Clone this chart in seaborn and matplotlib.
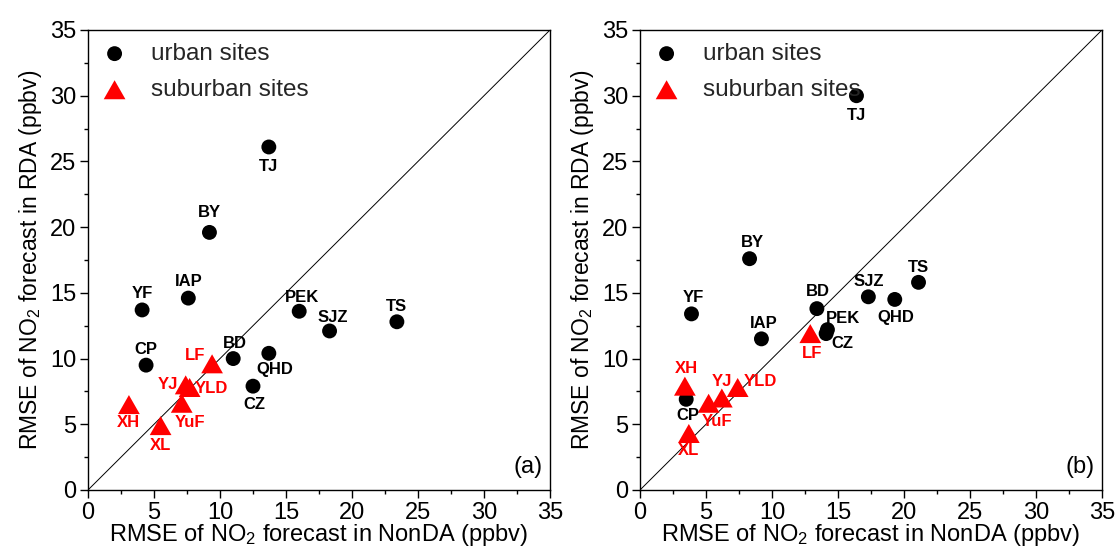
import numpy as np
import pandas as pd
import matplotlib
matplotlib.use("Agg")
import matplotlib.pyplot as plt
import seaborn as sns

# ---------------- data ----------------
urban_sites = ["TJ", "BY", "IAP", "YF", "CP", "BD", "QHD", "CZ", "PEK", "SJZ", "TS"]
suburban_sites = ["LF", "YJ", "YLD", "YuF", "XH", "XL"]

# panel (a)
a_urban_nonda = [13.7, 9.2, 7.6, 4.1, 4.4, 11.0, 13.7, 12.5, 16.0, 18.3, 23.4]
a_urban_rda = [26.1, 19.6, 14.6, 13.7, 9.5, 10.0, 10.4, 7.9, 13.6, 12.1, 12.8]
a_sub_nonda = [9.4, 7.4, 7.7, 7.1, 3.1, 5.5]
a_sub_rda = [9.6, 8.0, 7.8, 6.6, 6.5, 4.9]

# panel (b)
b_urban_nonda = [16.4, 8.3, 9.2, 3.9, 3.5, 13.4, 19.3, 14.1, 14.2, 17.3, 21.1]
b_urban_rda = [30.0, 17.6, 11.5, 13.4, 6.9, 13.8, 14.5, 11.9, 12.2, 14.7, 15.8]
b_sub_nonda = [12.9, 6.2, 7.4, 5.2, 3.4, 3.7]
b_sub_rda = [11.9, 7.0, 7.8, 6.6, 7.9, 4.3]

# label offsets (points)
a_offsets = {"TJ": (0, -14), "BY": (0, 14), "IAP": (0, 12), "YF": (0, 12), "CP": (0, 11),
             "BD": (1, 11), "QHD": (4, -12), "CZ": (1, -13), "PEK": (2, 10), "SJZ": (2, 10),
             "TS": (0, 11), "LF": (-12, 6), "YJ": (-13, 0), "YLD": (16, -1), "YuF": (6, -14),
             "XH": (0, -13), "XL": (0, -14)}
b_offsets = {"TJ": (0, -14), "BY": (2, 12), "IAP": (2, 11), "YF": (1, 12), "CP": (1, -12),
             "BD": (1, 12), "QHD": (1, -13), "CZ": (12, -7), "PEK": (11, 8), "SJZ": (0, 11),
             "TS": (0, 11), "LF": (1, -14), "YJ": (0, 12), "YLD": (16, 4), "YuF": (6, -13),
             "XH": (1, 13), "XL": (0, -12)}

xlabel = "RMSE of NO$_2$ forecast in NonDA (ppbv)"
ylabel = "RMSE of NO$_2$ forecast in RDA (ppbv)"
legend_labels = ["urban sites", "suburban sites"]
ticks = [0, 5, 10, 15, 20, 25, 30, 35]

sns.set_theme(style="ticks")
plt.rcParams["font.family"] = ["Liberation Sans", "DejaVu Sans"]
plt.rcParams["mathtext.fontset"] = "custom"
plt.rcParams["mathtext.rm"] = "Liberation Sans"
plt.rcParams["mathtext.it"] = "Liberation Sans:italic"
plt.rcParams["mathtext.bf"] = "Liberation Sans:bold"

fig = plt.figure(figsize=(11.19, 5.58), dpi=100)
ax_a = fig.add_axes([88 / 1119, 1 - 490 / 558, 462 / 1119, 460 / 558])
ax_b = fig.add_axes([640 / 1119, 1 - 490 / 558, 462 / 1119, 460 / 558])

TRI = [(0, 0.875), (-1, -0.875), (1, -0.875), (0, 0.875)]


def build_df(u_x, u_y, s_x, s_y):
    return pd.DataFrame({
        "site": urban_sites + suburban_sites,
        "nonda": u_x + s_x,
        "rda": u_y + s_y,
        "type": [legend_labels[0]] * len(urban_sites) + [legend_labels[1]] * len(suburban_sites),
    })


def draw(ax, df, offsets, tag):
    ax.plot([0, 35], [0, 35], color="black", lw=0.7, zorder=1)
    sns.scatterplot(data=df[df["type"] == legend_labels[0]], x="nonda", y="rda",
                    color="black", marker="o", s=115, edgecolor="none",
                    ax=ax, label=legend_labels[0], zorder=3)
    sns.scatterplot(data=df[df["type"] == legend_labels[1]], x="nonda", y="rda",
                    color="red", marker=TRI, s=245, edgecolor="none",
                    ax=ax, label=legend_labels[1], zorder=3)
    for _, r in df.iterrows():
        col = "black" if r["type"] == legend_labels[0] else "red"
        dx, dy = offsets[r["site"]]
        ax.annotate(r["site"], (r["nonda"], r["rda"]), xytext=(dx, dy),
                    textcoords="offset points", ha="center", va="center",
                    fontsize=12, fontweight="bold", color=col, zorder=4)
    ax.set_xlim(0, 35)
    ax.set_ylim(0, 35)
    ax.set_xticks(ticks)
    ax.set_yticks(ticks)
    ax.set_xticks(np.arange(2.5, 35, 5), minor=True)
    ax.set_yticks(np.arange(2.5, 35, 5), minor=True)
    ax.tick_params(axis="both", which="major", direction="out", length=5.5, width=1,
                   labelsize=17, top=False, right=False, color="black", labelcolor="black",
                   pad=3)
    ax.tick_params(axis="both", which="minor", direction="out", length=3, width=1,
                   top=False, right=False, color="black")
    for sp in ax.spines.values():
        sp.set_visible(True)
        sp.set_color("black")
        sp.set_linewidth(1)
    ax.set_xlabel(xlabel, fontsize=17, labelpad=-1, color="black")
    ax.set_ylabel(ylabel, fontsize=16.5, labelpad=4, color="black")
    ax.text(0.985, 0.025, tag, transform=ax.transAxes, ha="right", va="bottom",
            fontsize=17, color="black")
    leg = ax.legend(loc="upper left", frameon=False, fontsize=17.5, handletextpad=0.9,
                    borderaxespad=0.0, labelspacing=0.58, markerscale=1.0,
                    borderpad=0.0, handlelength=1.2,
                    bbox_to_anchor=(12 / 462, 1 - 13 / 460))
    return leg


draw(ax_a, build_df(a_urban_nonda, a_urban_rda, a_sub_nonda, a_sub_rda), a_offsets, "(a)")
draw(ax_b, build_df(b_urban_nonda, b_urban_rda, b_sub_nonda, b_sub_rda), b_offsets, "(b)")

fig.savefig("out.png", dpi=100)
